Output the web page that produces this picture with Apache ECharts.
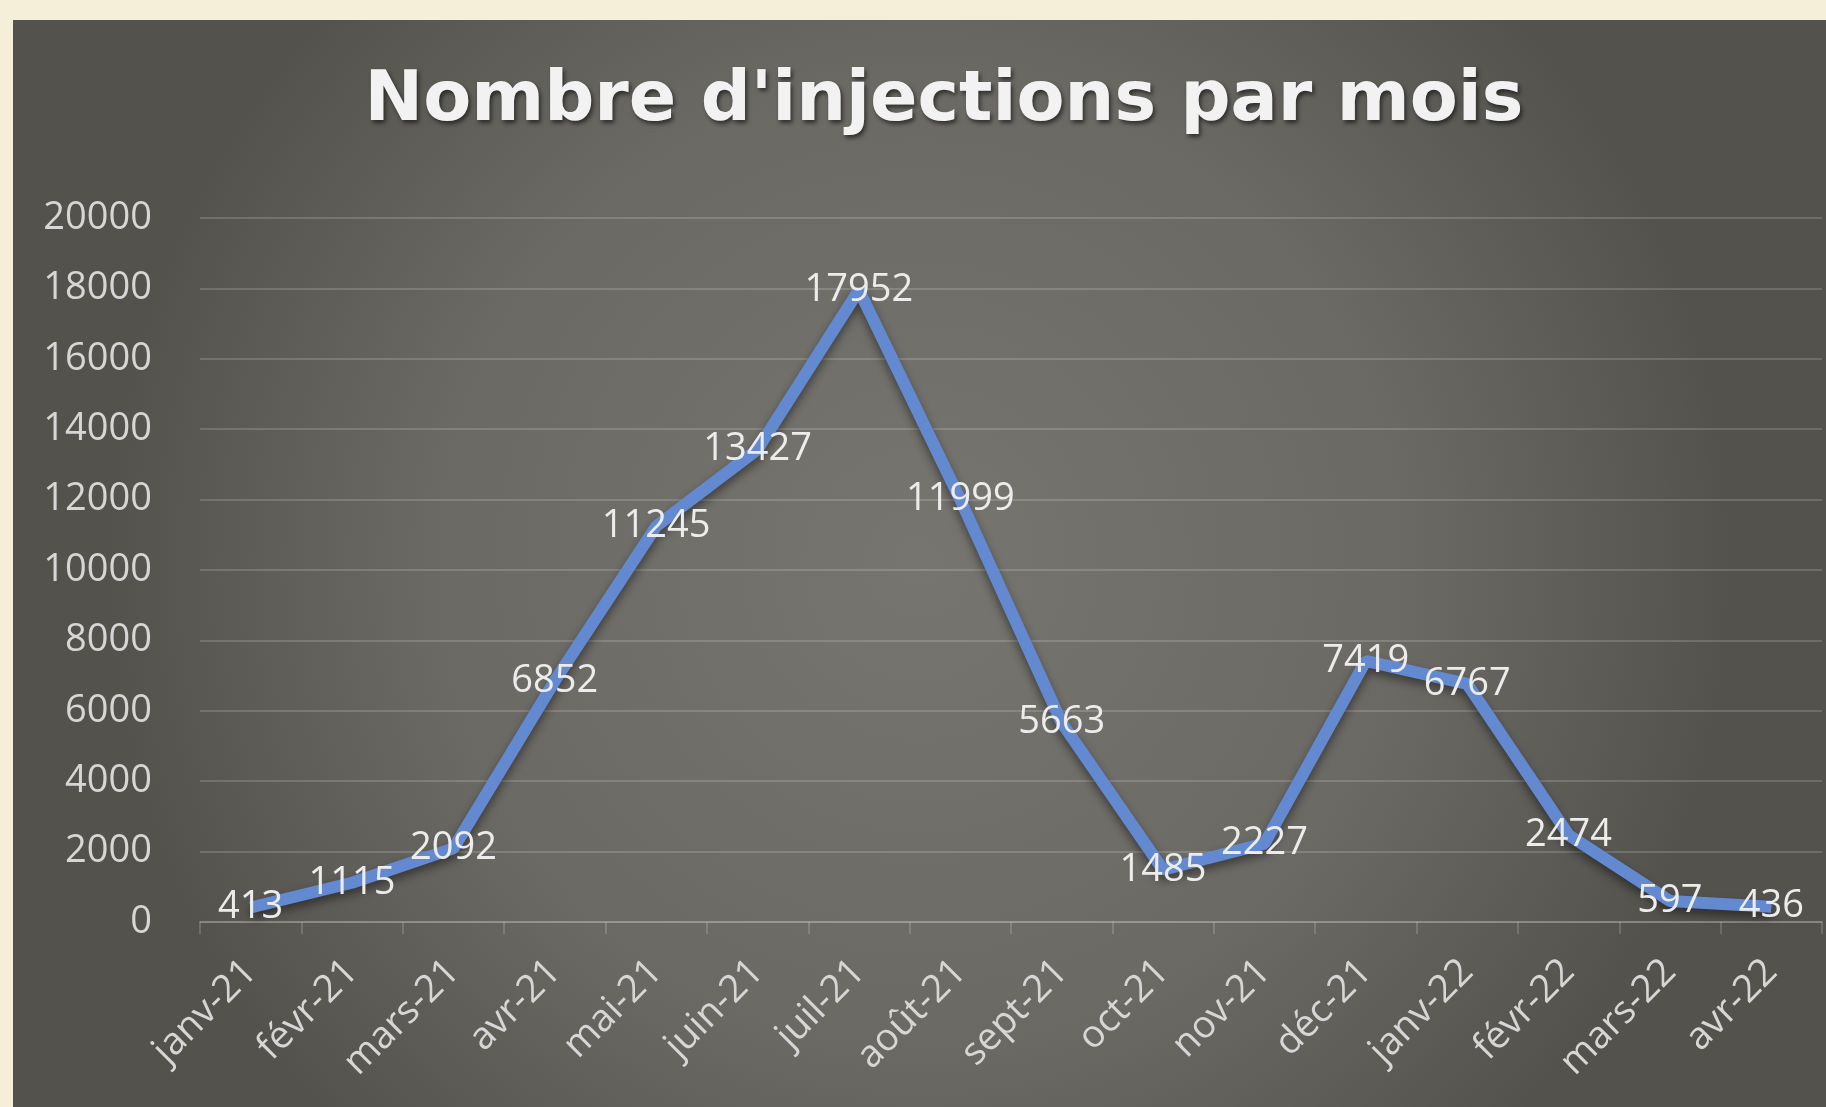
<!DOCTYPE html>
<html>
<head>
<meta charset="utf-8">
<script src="https://cdn.jsdelivr.net/npm/echarts@6/dist/echarts.min.js"></script>
<style>
  html, body { margin: 0; padding: 0; width: 1826px; height: 1107px; background: #f5eed9; overflow: hidden; }
  #main { position: absolute; left: 13px; top: 20px; width: 1813px; height: 1087px; }
</style>
</head>
<body>
<div id="main"></div>
<script>
  // données
  var mois = ['janv-21', 'févr-21', 'mars-21', 'avr-21', 'mai-21', 'juin-21', 'juil-21', 'août-21',
              'sept-21', 'oct-21', 'nov-21', 'déc-21', 'janv-22', 'févr-22', 'mars-22', 'avr-22'];
  var injections = [413, 1115, 2092, 6852, 11245, 13427, 17952, 11999, 5663, 1485, 2227, 7419, 6767, 2474, 597, 436];
  var yMin = 0, yMax = 20000, yPas = 2000;

  var myChart = echarts.init(document.getElementById('main'));
  var option = {
      backgroundColor: {
          type: 'radial', x: 0.5, y: 0.5, r: 0.75,
          colorStops: [
              { offset: 0, color: '#77756f' },
              { offset: 0.6, color: '#6b6964' },
              { offset: 1, color: '#53524d' }
          ]
      },
      title: {
          text: "Nombre d'injections par mois",
          left: 926,
          textAlign: 'center',
          top: 42,
          textStyle: {
              fontFamily: 'DejaVu Sans',
              fontWeight: 'bold',
              fontSize: 70,
              color: '#f2f2f2',
              textShadowColor: 'rgba(0,0,0,0.55)',
              textShadowBlur: 4,
              textShadowOffsetX: 2,
              textShadowOffsetY: 3
          }
      },
      grid: { left: 187, right: 4, top: 198, bottom: 185 },
      xAxis: {
          type: 'category',
          data: mois,
          boundaryGap: true,
          axisLine: { lineStyle: { color: 'rgba(255,255,255,0.16)', width: 2 } },
          axisTick: { show: true, length: 12, lineStyle: { color: 'rgba(255,255,255,0.16)', width: 2 } },
          axisLabel: {
              rotate: 45,
              margin: 44,
              color: '#d6d6d6',
              fontFamily: 'Open Sans',
              fontSize: 38
          }
      },
      yAxis: {
          type: 'value',
          min: yMin,
          max: yMax,
          interval: yPas,
          axisLine: { show: false },
          axisTick: { show: false },
          axisLabel: {
              margin: 48,
              color: '#d6d6d6',
              fontFamily: 'Open Sans',
              fontSize: 38,
              formatter: function (v) { return String(v); }
          },
          splitLine: { lineStyle: { color: 'rgba(255,255,255,0.16)', width: 2 } }
      },
      series: [
          {
              name: 'Injections',
              type: 'line',
              data: injections,
              showSymbol: true,
              symbol: 'circle',
              symbolSize: 1,
              lineStyle: {
                  color: '#6389d0',
                  width: 12,
                  shadowColor: 'rgba(0,0,0,0.45)',
                  shadowBlur: 10,
                  shadowOffsetY: 5
              },
              itemStyle: { color: '#6389d0' },
              label: {
                  show: true,
                  position: 'inside',
                  color: '#ececec',
                  fontFamily: 'Open Sans',
                  fontSize: 38,
                  formatter: function (p) { return String(p.value); }
              },
              labelLayout: { hideOverlap: false }
          }
      ]
  };
  myChart.setOption(option);
</script>
</body>
</html>
